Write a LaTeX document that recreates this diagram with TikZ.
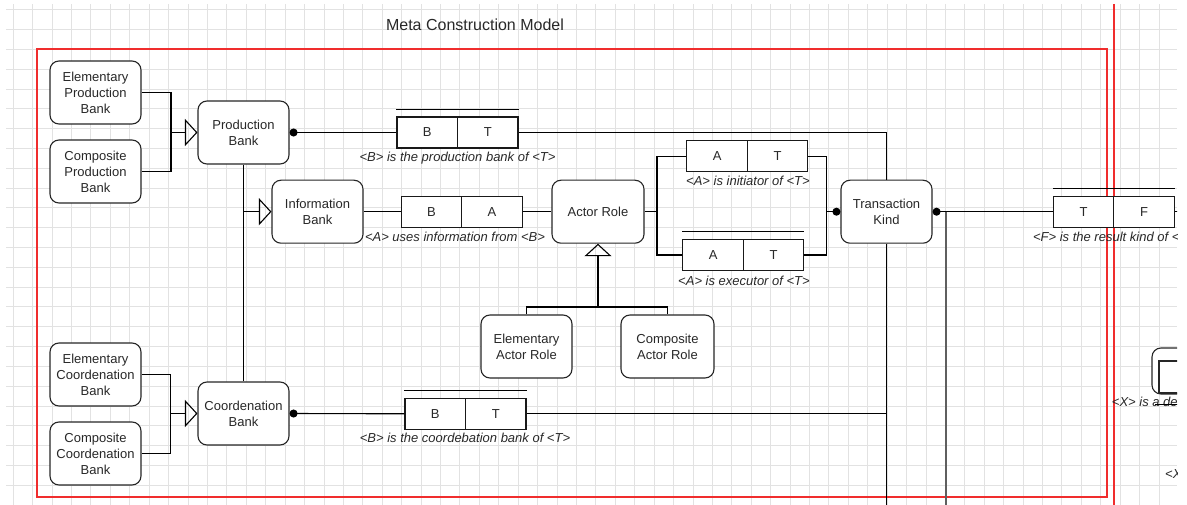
\documentclass[tikz,border=0pt]{standalone}
\usepackage{fontspec}
\setmainfont{Liberation Sans}
\usetikzlibrary{arrows.meta}
\definecolor{gridc}{RGB}{226,226,226}
\definecolor{redl}{RGB}{240,45,45}
\definecolor{grayl}{RGB}{95,95,95}
\definecolor{txt}{RGB}{40,40,40}
\tikzset{
  x=1pt, y=-1pt,
  entity/.style={draw=black!85, fill=white, line width=1.1pt, rounded corners=9pt,
    minimum width=91pt, minimum height=63pt, align=center, inner sep=1pt,
    text=txt, font=\fontsize{13}{16}\selectfont},
  cell/.style={draw=black!90, fill=white, line width=1.1pt, minimum width=60.5pt,
    minimum height=31pt, inner sep=0pt, text=txt, font=\fontsize{13}{16}\selectfont},
  fact/.style={font=\fontsize{13}{16}\selectfont\itshape, inner sep=0pt, text=txt},
  conn/.style={line width=1.1pt, draw=black},
  gen/.style={conn, -{Triangle[open, length=12.5pt, width=27pt]}},
  dotS/.style={conn, {Circle[length=8pt]}-},
  dotE/.style={conn, -{Circle[length=8pt]}},
  redframe/.style={draw=redl, line width=1.2pt},
}
\begin{document}
\begin{tikzpicture}
\useasboundingbox (0,0) rectangle (1187,505);
\begin{scope}
\clip (0,0) rectangle (1177,505);
% grid
\foreach \i in {0,...,60} \draw[gridc, line width=1pt] ({13.3+19.42*\i},4) -- ({13.3+19.42*\i},505);
\foreach \j in {0,...,25} \draw[gridc, line width=1pt] (6,{10+19.8*\j}) -- (1177,{10+19.8*\j});

% title and frame
\node[font=\fontsize{16}{19}\selectfont, text=txt, inner sep=0pt] (title) at (475,25) {Meta Construction Model};
\draw[redframe] (37,49) rectangle (1107,497);
\draw[redframe] (1114,4) -- (1114,505);

% entities
\node[entity] (epb) at (95.5,92.5) {Elementary\\Production\\Bank};
\node[entity] (cpb) at (95.5,171.5) {Composite\\Production\\Bank};
\node[entity] (pb) at (243.5,132.5) {Production\\Bank};
\node[entity] (ib) at (317.5,211.7) {Information\\Bank};
\node[entity, minimum width=92pt] (ar) at (598,211.7) {Actor Role};
\node[entity] (tk) at (886.5,211.7) {Transaction\\Kind};
\node[entity] (ear) at (526.5,346.5) {Elementary\\Actor Role};
\node[entity, minimum width=93pt] (car) at (667.5,346.5) {Composite\\Actor Role};
\node[entity] (ecb) at (95.5,374.5) {Elementary\\Coordenation\\Bank};
\node[entity] (ccb) at (95.5,453.5) {Composite\\Coordenation\\Bank};
\node[entity] (cb) at (243.5,413.5) {Coordenation\\Bank};
\node[entity, minimum width=90pt, minimum height=46pt] (xb) at (1197,371) {};
\node[draw=black!85, fill=white, line width=1.1pt, minimum width=80pt, minimum height=32pt, inner sep=0pt] (xc) at (1199,377) {};

% fact type boxes
\node[cell] (bt1a) at (427.25,132.5) {B};
\node[cell] (bt1b) at (487.75,132.5) {T};
\node[cell] (ba1) at (431.45,211.7) {B};
\node[cell] (ba2) at (491.95,211.7) {A};
\node[cell] (at1a) at (717.1,156.2) {A};
\node[cell] (at1b) at (777.6,156.2) {T};
\node[cell] (at2a) at (713.1,255) {A};
\node[cell] (at2b) at (773.6,255) {T};
\node[cell] (bt3a) at (435.25,413.8) {B};
\node[cell] (bt3b) at (495.75,413.8) {T};
\node[cell] (tfa) at (1083.6,211.7) {T};
\node[cell] (tfb) at (1144.1,211.7) {F};

% overlines
\draw[conn] ([yshift=7pt]bt1a.north west) -- ([yshift=7pt]bt1b.north east);
\draw[conn] ([yshift=7pt]at2a.north west) -- ([yshift=7pt]at2b.north east);
\draw[conn] ([yshift=7.5pt]bt3a.north west) -- ([yshift=7.5pt]bt3b.north east);
\draw[conn] ([yshift=7pt]tfa.north west) -- ([yshift=7pt]tfb.north east);

% fact labels
\node[fact] (f1) at (457.5,158.5) {<B> is the production bank of <T>};
\node[fact] (f2) at (455,236.7) {<A> uses information from <B>};
\node[fact] (f3) at (748,181) {<A> is initiator of <T>};
\node[fact] (f4) at (744,280.7) {<A> is executor of <T>};
\node[fact] (f5) at (465,438.3) {<B> is the coordebation bank of <T>};
\node[fact] (f6) at (1114,237.3) {<F> is the result kind of <T>};
\node[fact, anchor=west] (f7) at (1111.7,401.7) {<X> is a de};
\node[fact, anchor=west] (f8) at (1165,474.5) {<X};

% junction coordinates
\coordinate (pj) at (171,132.5);
\coordinate (cj) at (170.5,413.5);
\coordinate (ij) at (243.5,211.7);
\coordinate (aj) at (657,211.7);
\coordinate (tj) at (826.7,211.7);
\coordinate (rj) at (598,307);
\coordinate (gj) at (946,211.7);
\coordinate (gb) at (946,505);
\coordinate (tkb) at (886.5,505);
\coordinate (cj2) at (886.5,413.8);
\coordinate (tfe) at (1190,211.7);
\coordinate (xl1) at (1155,404.3);
\coordinate (xl2) at (1190,404.3);

% connectors
\draw[conn] (epb.east) -| (pj);
\draw[conn] (cpb.east) -| (pj);
\draw[gen] (pj) -- (pb.west);
\draw[conn] (ecb.east) -| (cj);
\draw[conn] (ccb.east) -| (cj);
\draw[gen] (cj) -- (cb.west);
\draw[conn] (pb.south) -- (cb.north);
\draw[gen] (ij) -- (ib.west);
\draw[dotS] (pb.east) -- (bt1a.west);
\draw[conn] (bt1b.east) -| (tk.north);
\draw[conn] (ib.east) -- (ba1.west);
\draw[conn] (ba2.east) -- (ar.west);
\draw[conn] (ar.east) -- (aj);
\draw[conn] (at1a.west) -| (aj);
\draw[conn] (at2a.west) -| (aj);
\draw[conn] (at1b.east) -| (tj);
\draw[conn] (at2b.east) -| (tj);
\draw[dotE] (tj) -- (tk.west);
\draw[dotS] (tk.east) -- (tfa.west);
\draw[conn, draw=grayl] (gj) -- (gb);
\draw[conn] (tk.south) -- (tkb);
\draw[dotS] (cb.east) -- (bt3a.west);
\draw[conn] (bt3b.east) -- (cj2);
\draw[gen] (rj) -- (ar.south);
\draw[conn] (ear.north) |- (rj);
\draw[conn] (car.north) |- (rj);
\draw[conn] (tfb.east) -- (tfe);
\draw[conn] (xl1) -- (xl2);
\end{scope}
\end{tikzpicture}
\end{document}
